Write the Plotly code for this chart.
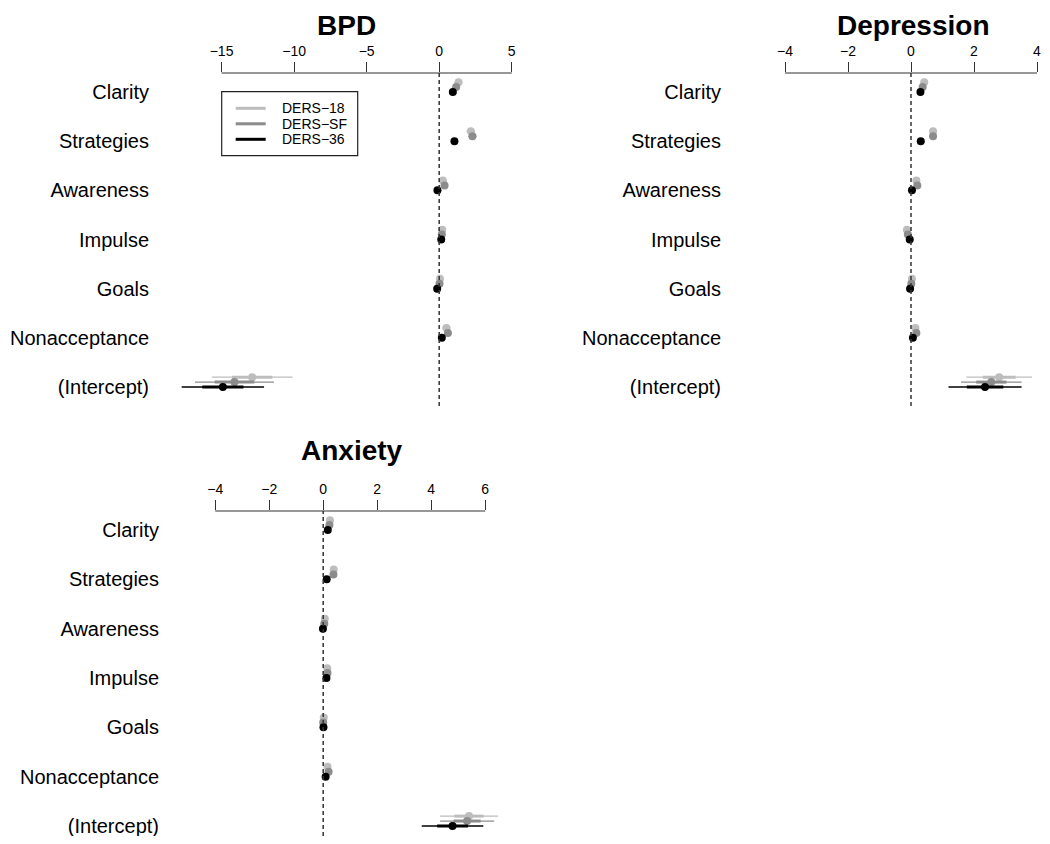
import plotly.graph_objects as go

# ---------------- data ----------------
categories = ["Clarity", "Strategies", "Awareness", "Impulse", "Goals",
              "Nonacceptance", "(Intercept)"]
series_names = ["DERS\u221218", "DERS\u2212SF", "DERS\u221236"]

# BPD
bpd_ders18 = [1.33, 2.18, 0.25, 0.21, 0.05, 0.50, -12.89]
bpd_derssf = [1.17, 2.29, 0.37, 0.18, 0.02, 0.60, -14.11]
bpd_ders36 = [0.94, 1.05, -0.12, 0.14, -0.14, 0.18, -14.91]
bpd_se18 = [0.14, 0.15, 0.13, 0.13, 0.12, 0.14, 1.39]
bpd_sesf = [0.13, 0.14, 0.12, 0.12, 0.11, 0.13, 1.36]
bpd_se36 = [0.08, 0.09, 0.07, 0.07, 0.07, 0.08, 1.42]

# Depression
dep_ders18 = [0.42, 0.70, 0.17, -0.13, 0.03, 0.14, 2.80]
dep_derssf = [0.37, 0.70, 0.20, -0.10, 0.01, 0.17, 2.55]
dep_ders36 = [0.30, 0.31, 0.03, -0.04, -0.03, 0.06, 2.35]
dep_se18 = [0.05, 0.05, 0.05, 0.05, 0.04, 0.05, 0.52]
dep_sesf = [0.05, 0.05, 0.04, 0.04, 0.04, 0.05, 0.48]
dep_se36 = [0.03, 0.03, 0.03, 0.03, 0.03, 0.03, 0.58]

# Anxiety
anx_ders18 = [0.25, 0.39, 0.06, 0.15, 0.02, 0.16, 5.40]
anx_derssf = [0.23, 0.38, 0.04, 0.16, 0.00, 0.20, 5.33]
anx_ders36 = [0.17, 0.13, -0.01, 0.12, 0.01, 0.09, 4.79]
anx_se18 = [0.04, 0.04, 0.04, 0.04, 0.04, 0.04, 0.54]
anx_sesf = [0.04, 0.04, 0.04, 0.04, 0.04, 0.04, 0.50]
anx_se36 = [0.03, 0.03, 0.03, 0.03, 0.03, 0.03, 0.57]

bpd_ticks = [-15, -10, -5, 0, 5]
dep_ticks = [-4, -2, 0, 2, 4]
anx_ticks = [-4, -2, 0, 2, 4, 6]

# ---------------- styling ----------------
OFF = 8  # page body margin in the browser
W, H = 1050 - 2 * OFF, 844 - 2 * OFF
colors = ["#bdbdbd", "#8c8c8c", "#000000"]
offsets = [-0.2, -0.1, 0.0]
FONT = "Liberation Sans, Arial, Helvetica, sans-serif"

def px_x(p):
    return (p - OFF) / W

def px_y(p):
    return 1 - (p - OFF) / H

panels = [
    dict(title="BPD", est=[bpd_ders18, bpd_derssf, bpd_ders36],
         se=[bpd_se18, bpd_sesf, bpd_se36], ticks=bpd_ticks,
         xdom=(150, 555), zero_px=439.2, scale=14.51,
         ydom=(73, 406), yrange=[7.386, 0.614], title_xy=(346, 26)),
    dict(title="Depression", est=[dep_ders18, dep_derssf, dep_ders36],
         se=[dep_se18, dep_sesf, dep_se36], ticks=dep_ticks,
         xdom=(722, 1042), zero_px=911.0, scale=31.5,
         ydom=(73, 406), yrange=[7.386, 0.614], title_xy=(913, 26)),
    dict(title="Anxiety", est=[anx_ders18, anx_derssf, anx_ders36],
         se=[anx_se18, anx_sesf, anx_se36], ticks=anx_ticks,
         xdom=(160, 520), zero_px=323.2, scale=27.0,
         ydom=(511, 836), yrange=[7.203, 0.614], title_xy=(352, 450)),
]

fig = go.Figure()
shapes = []
annotations = []
rows = list(range(1, len(categories) + 1))

for i, p in enumerate(panels):
    sfx = "" if i == 0 else str(i + 1)
    xa, ya = "x" + sfx, "y" + sfx
    for k in range(3):
        est, se = p["est"][k], p["se"][k]
        ys = [r + offsets[k] for r in rows]
        thin_x, thin_y, thick_x, thick_y = [], [], [], []
        for e, s, y in zip(est, se, ys):
            thin_x += [e - 2 * s, e + 2 * s, None]
            thin_y += [y, y, None]
            thick_x += [e - s, e + s, None]
            thick_y += [y, y, None]
        fig.add_trace(go.Scatter(x=thin_x, y=thin_y, mode="lines",
                                 line=dict(color=colors[k], width=1.3),
                                 xaxis=xa, yaxis=ya, showlegend=False,
                                 hoverinfo="skip"))
        fig.add_trace(go.Scatter(x=thick_x, y=thick_y, mode="lines",
                                 line=dict(color=colors[k], width=3),
                                 xaxis=xa, yaxis=ya, showlegend=False,
                                 hoverinfo="skip"))
        fig.add_trace(go.Scatter(x=est, y=ys, mode="markers",
                                 marker=dict(color=colors[k], size=8),
                                 xaxis=xa, yaxis=ya, showlegend=False,
                                 name=series_names[k]))
    x0, x1 = p["xdom"]
    xr = [(x0 - p["zero_px"]) / p["scale"], (x1 - p["zero_px"]) / p["scale"]]
    y0, y1 = p["ydom"]
    fig.update_layout({
        "xaxis" + sfx: dict(domain=[max(0, px_x(x0)), min(1, px_x(x1))],
                            range=xr, anchor=ya, side="top", showgrid=False,
                            zeroline=False, showline=False, ticks="outside",
                            ticklen=10, tickwidth=1, tickcolor="#333333",
                            tickvals=p["ticks"], automargin=False,
                            ticklabeloverflow="allow",
                            tickfont=dict(size=14, color="black", family=FONT)),
        "yaxis" + sfx: dict(domain=[max(0, px_y(y1)), min(1, px_y(y0))],
                            range=p["yrange"], automargin=False,
                            anchor=xa, showgrid=False, zeroline=False,
                            showline=False, ticks="", tickvals=rows,
                            ticktext=categories, ticklabeloverflow="allow",
                            tickfont=dict(size=20, color="black", family=FONT)),
    })
    # axis line between first and last tick
    shapes.append(dict(type="line", xref=xa, yref=ya + " domain",
                       x0=p["ticks"][0], x1=p["ticks"][-1], y0=1, y1=1,
                       line=dict(color="#333333", width=1.2)))
    # dashed zero line
    shapes.append(dict(type="line", xref=xa, yref=ya + " domain",
                       x0=0, x1=0, y0=0, y1=1,
                       line=dict(color="#333333", width=1.5, dash="4px,3px")))
    tx, ty = p["title_xy"]
    annotations.append(dict(text="<b>%s</b>" % p["title"], x=px_x(tx),
                            y=px_y(ty), xref="paper", yref="paper",
                            xanchor="center", yanchor="middle",
                            showarrow=False,
                            font=dict(size=28, color="black", family=FONT)))

# ---- legend box (drawn like R's legend()) ----
shapes.append(dict(type="rect", xref="paper", yref="paper",
                   x0=px_x(221.7), x1=px_x(357.7), y0=px_y(155.7), y1=px_y(91.7),
                   line=dict(color="#222222", width=1.2), fillcolor="white"))
leg_rows = [108.3, 123.8, 139.3]
for k in range(3):
    shapes.append(dict(type="line", xref="paper", yref="paper",
                       x0=px_x(235.7), x1=px_x(265.7),
                       y0=px_y(leg_rows[k]), y1=px_y(leg_rows[k]),
                       line=dict(color=colors[k], width=3)))
    annotations.append(dict(text=series_names[k], x=px_x(279.5),
                            y=px_y(leg_rows[k]), xref="paper", yref="paper",
                            xanchor="left", yanchor="middle", showarrow=False,
                            font=dict(size=14, color="black", family=FONT)))

fig.update_layout(
    width=W, height=H,
    margin=dict(l=0, r=0, t=0, b=0),
    paper_bgcolor="white", plot_bgcolor="white",
    shapes=shapes, annotations=annotations,
    font=dict(family=FONT, color="black"),
    showlegend=False,
)

fig.write_html("out.html")
